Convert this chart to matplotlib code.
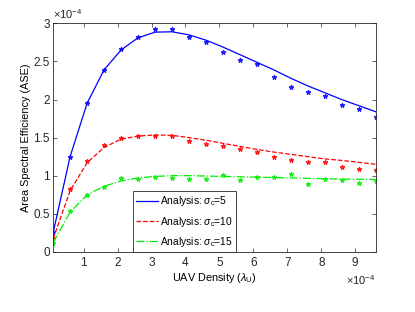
import numpy as np
import matplotlib
matplotlib.use("Agg")
import matplotlib.pyplot as plt
from matplotlib.ticker import ScalarFormatter

plt.rcParams['font.family'] = ['Liberation Sans', 'DejaVu Sans']
plt.rcParams['mathtext.fontset'] = 'custom'
plt.rcParams['mathtext.rm'] = 'Liberation Sans'
plt.rcParams['mathtext.it'] = 'Liberation Sans:italic'

# UAV density (x 1e-4)
density = [0.1, 0.6, 1.1, 1.6, 2.1, 2.6, 3.1, 3.6, 4.1, 4.6,
           5.1, 5.6, 6.1, 6.6, 7.1, 7.6, 8.1, 8.6, 9.1, 9.6]

# Analysis curves (ASE x 1e-4)
ana_s5 = [0.25, 1.25, 1.95, 2.39, 2.65, 2.81, 2.885, 2.89, 2.85, 2.78,
          2.69, 2.59, 2.49, 2.39, 2.28, 2.18, 2.09, 2.00, 1.92, 1.84]
ana_s10 = [0.17, 0.80, 1.17, 1.37, 1.48, 1.52, 1.535, 1.53, 1.50, 1.465,
           1.425, 1.385, 1.345, 1.31, 1.28, 1.25, 1.22, 1.20, 1.175, 1.15]
ana_s15 = [0.12, 0.52, 0.75, 0.86, 0.93, 0.97, 0.99, 1.00, 1.00, 0.995,
           0.99, 0.985, 0.98, 0.975, 0.97, 0.965, 0.96, 0.955, 0.953, 0.95]

# Simulation points (ASE x 1e-4)
sim_s5 = [0.255, 1.25, 1.96, 2.39, 2.66, 2.82, 2.92, 2.93, 2.82, 2.76,
          2.62, 2.52, 2.47, 2.30, 2.16, 2.10, 2.04, 1.93, 1.88, 1.77]
sim_s10 = [0.18, 0.83, 1.19, 1.40, 1.50, 1.52, 1.52, 1.52, 1.46, 1.41,
           1.39, 1.345, 1.31, 1.25, 1.20, 1.18, 1.18, 1.12, 1.09, 1.07]
sim_s15 = [0.12, 0.53, 0.75, 0.855, 0.97, 0.96, 0.98, 0.97, 0.95, 0.95,
           1.01, 0.946, 0.98, 0.98, 1.02, 0.89, 0.95, 0.94, 0.90, 0.93]

labels = [r'Analysis: $\sigma_{\rm c}$=5',
          r'Analysis: $\sigma_{\rm c}$=10',
          r'Analysis: $\sigma_{\rm c}$=15']
colors = ['#0000FF', '#FF0000', '#00EE00']
styles = ['-', '--', '-.']


class GFormatter(ScalarFormatter):
    def __call__(self, v, pos=None):
        return '%g' % round(v / 10 ** self.orderOfMagnitude, 6)


x = np.array(density) * 1e-4
fig = plt.figure(figsize=(4.15, 3.12), dpi=100)
ax = fig.add_axes([0.128, 0.193, 0.777, 0.732])

for ana, sim, lab, c, ls in zip([ana_s5, ana_s10, ana_s15],
                                [sim_s5, sim_s10, sim_s15],
                                labels, colors, styles):
    ax.plot(x, np.array(ana) * 1e-4, ls, color=c, lw=0.9, label=lab)
    ax.plot(x, np.array(sim) * 1e-4, '*', color=c, ms=3.5, mew=0.8, alpha=0.8)

ax.set_xlim(0.1e-4, 9.6e-4)
ax.set_ylim(0, 3e-4)
ax.set_xticks(np.arange(1, 10) * 1e-4)
ax.set_yticks(np.arange(0, 3.01, 0.5) * 1e-4)

for axis in (ax.xaxis, ax.yaxis):
    fmt = GFormatter(useMathText=True)
    fmt.set_powerlimits((-3, 3))
    axis.set_major_formatter(fmt)
ax.yaxis.get_offset_text().set_fontsize(8)
ax.xaxis.get_offset_text().set_fontsize(8)

ax.tick_params(direction='in', top=True, right=True, length=3, width=0.5,
               labelsize=8.5, colors='0.15')
ax.tick_params(axis='y', pad=2.5)
ax.tick_params(axis='x', pad=4)
for s in ax.spines.values():
    s.set_linewidth(0.6)
    s.set_color('0.15')

ax.set_xlabel(r'UAV Density ($\lambda_{\rm U}$)', fontsize=7.8, labelpad=1)
ax.set_ylabel('Area Spectral Efficiency (ASE)', fontsize=7.8, labelpad=1.5)

leg = ax.legend(loc='lower left', bbox_to_anchor=(0.248, 0.0), borderaxespad=0,
                fontsize=7.4, fancybox=False, edgecolor='0.15', framealpha=1,
                handlelength=2.1, handletextpad=0.25, labelspacing=0.6,
                borderpad=0.3)
leg.get_frame().set_linewidth(0.6)

fig.savefig('out.png', dpi=100)
